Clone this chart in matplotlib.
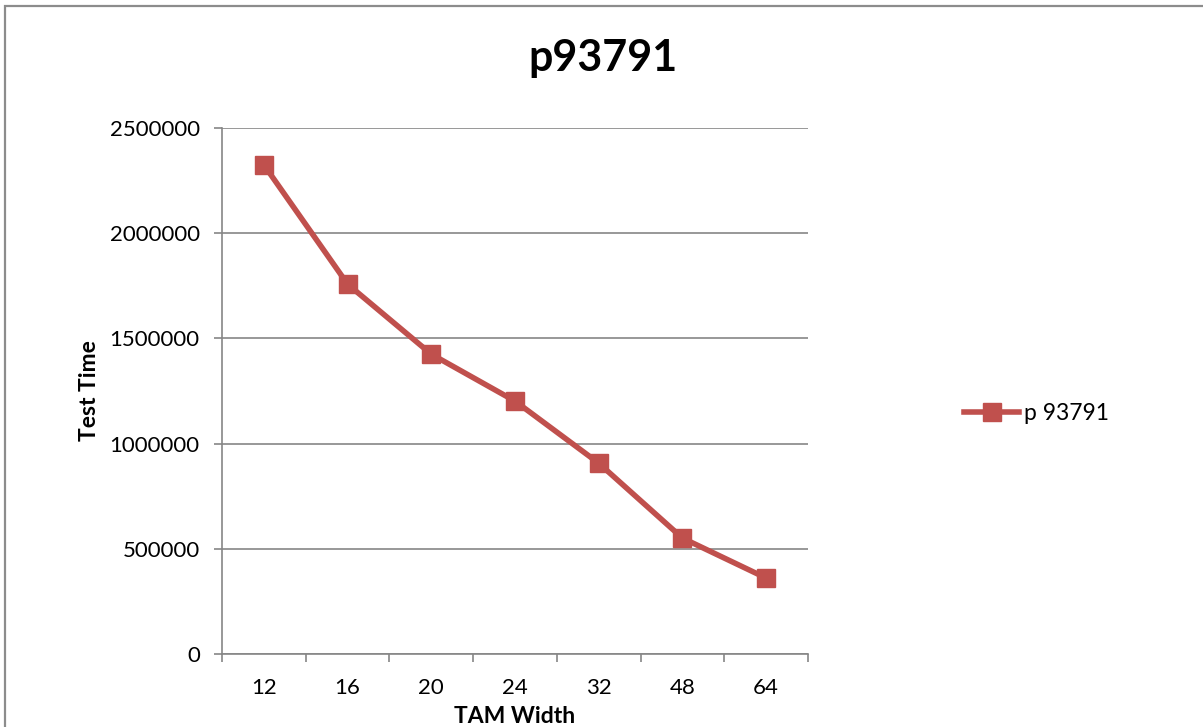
import matplotlib
matplotlib.use("Agg")
import matplotlib.pyplot as plt
from matplotlib.patches import Rectangle
from matplotlib.ticker import FixedLocator, NullFormatter

plt.rcParams['font.family'] = ['Lato', 'DejaVu Sans']

# TAM widths and the resulting test time for p93791
tam_width = ["12", "16", "20", "24", "32", "48", "64"]
test_time = [2325000, 1758000, 1425000, 1202000, 907000, 551000, 361000]
series_name = "p 93791"
title = "p93791"
x_label = "TAM Width"
y_label = "Test Time"
y_ticks = [0, 500000, 1000000, 1500000, 2000000, 2500000]

W, H = 1203, 727
fig = plt.figure(figsize=(W / 100, H / 100), dpi=100)
fig.patch.set_facecolor("white")

# chart-area border
fig.add_artist(Rectangle((5 / W, -0.05), 1.2, (H - 6) / H + 0.05,
                         transform=fig.transFigure, fill=False,
                         edgecolor="#8c8c8c", linewidth=1.6))

ax = fig.add_axes([222 / W, (H - 654) / H, (808 - 222) / W, (654 - 128) / H])
grid_color = "#868686"
red = "#C0504D"

x = list(range(len(tam_width)))
line, = ax.plot(x, test_time, color=red, linewidth=4.0, marker="s",
                markersize=13, markerfacecolor=red, markeredgecolor=red,
                solid_joinstyle="miter", label=series_name, zorder=3)

ax.set_xlim(-0.5, len(tam_width) - 0.5)
ax.set_ylim(0, 2500000)
ax.set_yticks(y_ticks)
ax.set_yticklabels([str(v) for v in y_ticks])
ax.yaxis.grid(True, color=grid_color, linewidth=1.2)
ax.set_axisbelow(True)

ax.set_xticks(x)
ax.set_xticklabels(tam_width)
ax.xaxis.set_minor_locator(FixedLocator([i - 0.5 for i in range(len(tam_width) + 1)]))
ax.xaxis.set_minor_formatter(NullFormatter())
ax.tick_params(axis="x", which="major", length=0, pad=17, labelsize=16)
ax.tick_params(axis="x", which="minor", length=6, width=1.2, color=grid_color, direction="out")
ax.tick_params(axis="y", which="major", length=6, width=1.2, color=grid_color,
               direction="out", pad=10, labelsize=16)

for side in ("top", "right"):
    ax.spines[side].set_visible(False)
for side in ("left", "bottom"):
    ax.spines[side].set_color(grid_color)
    ax.spines[side].set_linewidth(1.2)

ax.set_xlabel(x_label, fontsize=16.5, fontweight="bold", labelpad=6)
ax.set_ylabel(y_label, fontsize=16.5, fontweight="bold", labelpad=7)

fig.text(603 / W, 1 - 58 / H, title, ha="center", va="center",
         fontsize=31, fontweight="bold")

fig.legend(handles=[line], loc="center left", bbox_to_anchor=(955 / W, 1 - 414 / H),
           frameon=False, fontsize=16.5, handlelength=2.4, handletextpad=0.2,
           borderaxespad=0)

fig.savefig("out.png", dpi=100, facecolor="white")
